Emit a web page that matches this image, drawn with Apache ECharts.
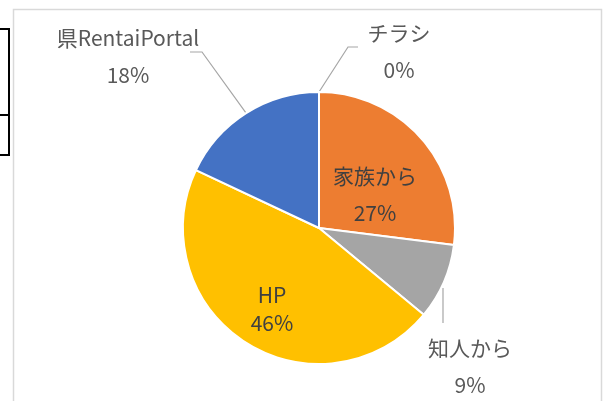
<!DOCTYPE html>
<html>
<head>
<meta charset="utf-8">
<script src="https://cdn.jsdelivr.net/npm/echarts@6/dist/echarts.min.js"></script>
<style>
html,body{margin:0;padding:0;background:#fff;}
#main{width:606px;height:401px;}
</style>
</head>
<body>
<div id="main"></div>
<script>
// ---- data ----
const categories = ['家族から', '知人から', 'HP', '県RentaiPortal', 'チラシ'];
const values = [27, 9, 46, 18, 0];
const colors = ['#ED7D31', '#A5A5A5', '#FFC000', '#4472C4', '#4472C4'];

// ---- layout constants ----
const CX = 319, CY = 228, R = 136;
const FONT = '"Noto Sans CJK JP", "Noto Sans", sans-serif';
// label centre offsets from pie centre (per slice index)
const labelOffsets = [[56, -33], [151, 139], [-47, 81], [-191, -171.5], [80, -176]];
// leader line elbow / end offsets from pie centre (outside labels only)
const lineOffsets = {
  1: [[124, 60], [124, 95]],
  3: [[-117, -176], [-129, -176]],
  4: [[29, -181], [39, -181]]
};
const insideIdx = [0, 2];

const chart = echarts.init(document.getElementById('main'), null, {renderer: 'canvas'});

const seriesData = categories.map((name, i) => {
  const inside = insideIdx.indexOf(i) >= 0;
  return {
    name: name,
    value: values[i],
    itemStyle: {color: colors[i]},
    label: {
      position: inside ? 'inside' : 'outside',
      color: inside ? '#404040' : '#595959',
      lineHeight: name === 'HP' ? 28 : 37
    },
    labelLine: {show: !inside}
  };
});

chart.setOption({
  backgroundColor: '#ffffff',
  animation: false,
  graphic: [
    {type: 'rect', shape: {x: 13.5, y: 9.5, width: 588, height: 420}, style: {fill: 'none', stroke: '#d9d9d9', lineWidth: 1.5}, silent: true},
    {type: 'polyline', shape: {points: [[0, 29], [9, 29], [9, 155], [0, 155]]}, style: {fill: 'none', stroke: '#000', lineWidth: 2}, silent: true},
    {type: 'line', shape: {x1: 0, y1: 115, x2: 9, y2: 115}, style: {stroke: '#000', lineWidth: 2}, silent: true}
  ],
  series: [{
    type: 'pie',
    center: [CX, CY],
    radius: R,
    startAngle: 90,
    clockwise: true,
    minShowLabelAngle: 0,
    avoidLabelOverlap: false,
    itemStyle: {borderColor: '#ffffff', borderWidth: 2},
    label: {
      show: true,
      fontFamily: FONT,
      fontSize: 21,
      formatter: p => p.name + '\n' + p.percent.toFixed(0) + '%'
    },
    labelLine: {
      lineStyle: {color: '#A6A6A6', width: 1.2},
      length: 20,
      length2: 10
    },
    labelLayout: function (params) {
      const i = params.dataIndex;
      const off = labelOffsets[i];
      const res = {
        x: CX + off[0],
        y: CY + off[1],
        align: 'center',
        verticalAlign: 'middle'
      };
      if (lineOffsets[i] && params.labelLinePoints) {
        const start = params.labelLinePoints[0];
        const pts = [[start[0], start[1]]];
        lineOffsets[i].forEach(o => pts.push([CX + o[0], CY + o[1]]));
        if (i === 1) { pts[0] = [CX + lineOffsets[i][0][0], start[1] + 6]; pts.splice(1, 1); }
        res.labelLinePoints = pts;
      }
      return res;
    },
    data: seriesData
  }]
});
</script>
</body>
</html>
